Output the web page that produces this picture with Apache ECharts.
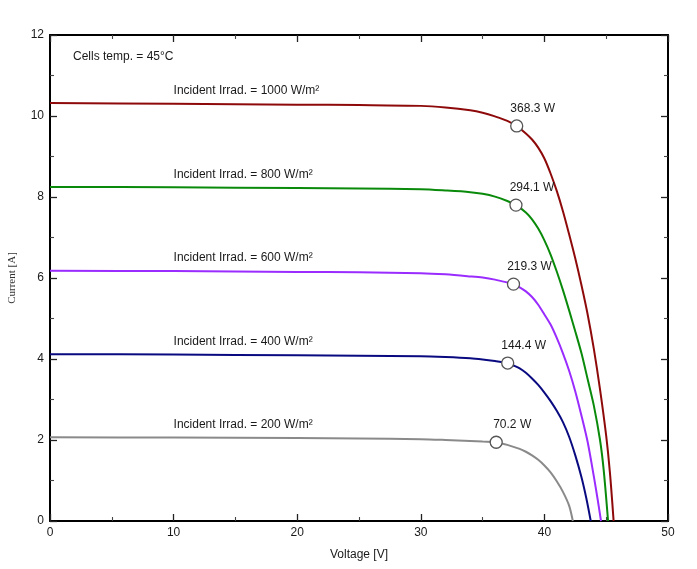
<!DOCTYPE html>
<html>
<head>
<meta charset="utf-8">
<script src="https://cdn.jsdelivr.net/npm/echarts@6/dist/echarts.min.js"></script>
<style>
  html, body { margin: 0; padding: 0; background: #fff; }
  #chart { width: 697px; height: 569px; }
</style>
</head>
<body>
<div id="chart"></div>
<script>
// I-V curves, one pair of arrays per irradiance
var volts1000 = [0, 10, 20, 25, 30, 32, 34, 35, 36, 37, 37.76, 38.5, 39, 39.5, 40, 40.5, 41, 41.5, 42, 42.5, 43, 43.5, 44, 44.5, 45, 45.3, 45.6]
var amps1000 = [10.32, 10.30, 10.28, 10.27, 10.25, 10.21, 10.14, 10.08, 9.99, 9.88, 9.75, 9.57, 9.42, 9.22, 8.95, 8.58, 8.15, 7.65, 7.08, 6.48, 5.82, 5.10, 4.25, 3.25, 2.1, 1.2, 0]

var volts800 = [0, 10, 20, 25, 30, 32, 34, 35, 36, 37, 37.7, 38.5, 39, 39.5, 40, 40.5, 41, 41.5, 42, 42.5, 43, 43.5, 44, 44.5, 44.8, 45.15]
var amps800 = [8.25, 8.24, 8.22, 8.21, 8.19, 8.16, 8.12, 8.08, 8.01, 7.90, 7.80, 7.62, 7.45, 7.22, 6.93, 6.58, 6.16, 5.70, 5.2, 4.68, 4.14, 3.5, 2.85, 2.0, 1.25, 0]

var volts600 = [0, 10, 20, 25, 30, 32, 34, 35, 36, 37, 37.5, 38, 38.5, 39, 39.5, 40, 40.5, 41, 41.5, 42, 42.5, 43, 43.5, 44, 44.3, 44.58]
var amps600 = [6.18, 6.17, 6.15, 6.14, 6.12, 6.09, 6.04, 6.01, 5.96, 5.89, 5.85, 5.77, 5.67, 5.53, 5.34, 5.10, 4.85, 4.52, 4.14, 3.71, 3.2, 2.6, 1.95, 1.1, 0.55, 0]

var volts400 = [0, 10, 20, 25, 30, 32, 34, 35, 36, 37.03, 37.5, 38, 38.5, 39, 39.5, 40, 40.5, 41, 41.5, 42, 42.5, 43, 43.4, 43.75]
var amps400 = [4.12, 4.11, 4.09, 4.08, 4.07, 4.05, 4.02, 3.99, 3.95, 3.90, 3.84, 3.77, 3.66, 3.52, 3.36, 3.17, 2.96, 2.72, 2.44, 2.08, 1.62, 1.08, 0.55, 0]

var volts200 = [0, 10, 20, 25, 30, 32, 34, 35, 36.1, 37, 38, 38.5, 39, 39.5, 40, 40.5, 41, 41.5, 42, 42.3]
var amps200 = [2.07, 2.06, 2.05, 2.04, 2.02, 2.0, 1.975, 1.96, 1.945, 1.88, 1.78, 1.71, 1.62, 1.51, 1.37, 1.2, 0.98, 0.72, 0.38, 0]

// maximum power points
var mppVolts = [37.76, 37.7, 37.5, 37.03, 36.1]
var mppAmps = [9.754, 7.80, 5.848, 3.90, 1.945]
var mppWatts = ['368.3', '294.1', '219.3', '144.4', '70.2']

var irradLevels = [1000, 800, 600, 400, 200]
var curveColors = ['#8e0a0a', '#0a8a0a', '#9a2cff', '#0a0a80', '#8a8a8a']

var xTicks = { min: 0, max: 50, interval: 10 }
var yTicks = { min: 0, max: 12, interval: 2 }

var curves = [
  [volts1000, amps1000],
  [volts800, amps800],
  [volts600, amps600],
  [volts400, amps400],
  [volts200, amps200]
]

function zip(xs, ys) {
  return xs.map(function (x, i) { return [x, ys[i]] })
}

var font = 'Arial, "Liberation Sans", sans-serif'

function frameAxis(pos, ticks, extra) {
  var ax = {
    type: 'value',
    position: pos,
    min: ticks.min,
    max: ticks.max,
    interval: ticks.interval,
    axisLine: { show: true, onZero: false, lineStyle: { color: '#000', width: 2 } },
    axisTick: { show: true, inside: true, length: 7, lineStyle: { color: '#222', width: 1.3 } },
    minorTick: { show: true, splitNumber: 2, length: 4, lineStyle: { color: '#444', width: 1.1 } },
    splitLine: { show: false },
    axisLabel: { show: false }
  }
  return Object.assign(ax, extra || {})
}

var series = curves.map(function (c, k) {
  return {
    type: 'line',
    name: irradLevels[k] + ' W/m²',
    data: zip(c[0], c[1]),
    smooth: 0.3,
    showSymbol: false,
    symbol: 'none',
    lineStyle: { color: curveColors[k], width: 2 },
    z: 2
  }
})

// irradiance captions sitting above the flat part of each curve
series.push({
  type: 'scatter',
  symbolSize: 0,
  data: curves.map(function (c) { return [10, c[1][1]] }),
  itemStyle: { opacity: 1 },
  label: {
    show: true,
    position: 'right',
    distance: 0,
    offset: [0, -13],
    color: '#1a1a1a',
    fontSize: 12,
    fontFamily: font,
    formatter: function (p) { return 'Incident Irrad. = ' + irradLevels[p.dataIndex] + ' W/m²' }
  },
  silent: true,
  z: 3
})

series.push({
  type: 'scatter',
  data: zip(mppVolts, mppAmps),
  symbol: 'circle',
  symbolSize: 12,
  itemStyle: { color: '#fff', borderColor: '#555', borderWidth: 1.3, opacity: 1 },
  label: {
    show: true,
    position: 'top',
    offset: [16, 0],
    color: '#1a1a1a',
    fontSize: 12,
    fontFamily: font,
    formatter: function (p) { return mppWatts[p.dataIndex] + ' W' }
  },
  z: 4
})

var option = {
  backgroundColor: '#ffffff',
  animation: false,
  grid: { left: 50, right: 29, top: 35, bottom: 48, containLabel: false, outerBoundsMode: 'none' },
  xAxis: [
    frameAxis('bottom', xTicks, {
      axisLabel: { show: true, color: '#1a1a1a', fontSize: 12, fontFamily: font, margin: 6 },
      name: 'Voltage [V]',
      nameLocation: 'middle',
      nameGap: 28,
      nameTextStyle: { color: '#1a1a1a', fontSize: 12, fontFamily: font }
    }),
    frameAxis('top', xTicks)
  ],
  yAxis: [
    frameAxis('left', yTicks, {
      axisLabel: { show: true, color: '#1a1a1a', fontSize: 12, fontFamily: font, margin: 6 },
      name: 'Current [A]',
      nameLocation: 'middle',
      nameGap: 32,
      nameTextStyle: { color: '#333', fontSize: 11, fontFamily: '"Liberation Serif", "DejaVu Serif", serif' }
    }),
    frameAxis('right', yTicks)
  ],
  graphic: [
    {
      type: 'text',
      left: 73,
      top: 51,
      style: { text: 'Cells temp. = 45°C', fill: '#1a1a1a', fontSize: 12, fontFamily: font }
    }
  ],
  series: series
}

var chart = echarts.init(document.getElementById('chart'))
chart.setOption(option)
</script>
</body>
</html>
